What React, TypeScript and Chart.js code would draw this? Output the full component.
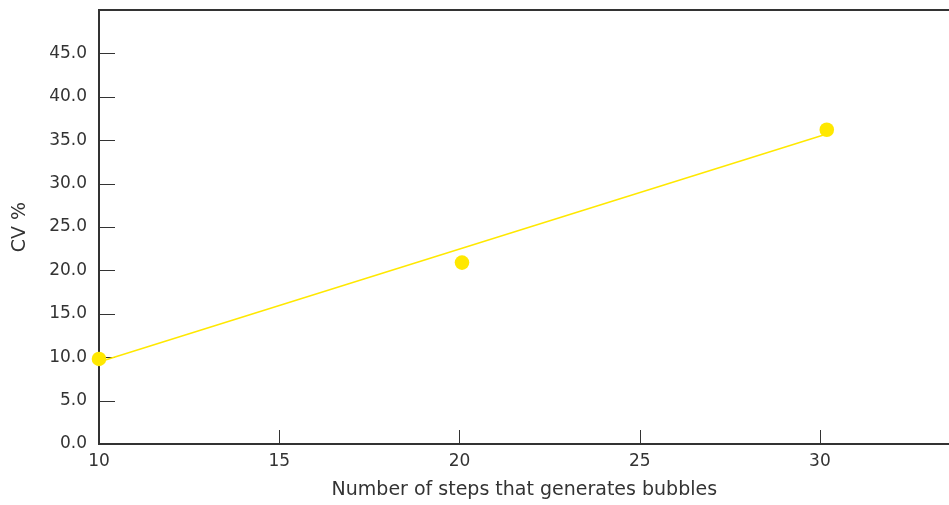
import React, { useEffect, useRef } from "react";
import { Chart, registerables } from "chart.js";

Chart.register(...registerables);

// Data
const stepsX = [10, 20.07, 30.19];
const cvValues = [9.8, 20.9, 36.2];
const trendX = [10, 30.1];
const trendY = [9.45, 35.6];
const xTickValues = [10, 15, 20, 25, 30];
const yTickValues = [0, 5, 10, 15, 20, 25, 30, 35, 40, 45];

const TEXT = "#333333";
const AXIS = "#333333";
const YELLOW = "#FFE800";
const FONT = "DejaVu Sans";

const innerTicks = {
  id: "innerTicks",
  beforeDatasetsDraw(chart: any) {
    const { ctx, chartArea, scales } = chart;
    ctx.save();
    ctx.strokeStyle = AXIS;
    // top border
    ctx.beginPath();
    ctx.lineWidth = 2;
    ctx.moveTo(chartArea.left, chartArea.top);
    ctx.lineTo(chartArea.right, chartArea.top);
    ctx.stroke();
    ctx.lineWidth = 1;
    for (const v of yTickValues) {
      const y = Math.round(scales.y.getPixelForValue(v)) + 0.5;
      ctx.beginPath();
      ctx.moveTo(chartArea.left, y);
      ctx.lineTo(chartArea.left + 16, y);
      ctx.stroke();
    }
    for (const v of xTickValues) {
      const x = Math.round(scales.x.getPixelForValue(v)) + 0.5;
      ctx.beginPath();
      ctx.moveTo(x, chartArea.bottom);
      ctx.lineTo(x, chartArea.bottom - 14);
      ctx.stroke();
    }
    ctx.restore();
  },
};

export default function App() {
  const ref = useRef<HTMLCanvasElement>(null);
  useEffect(() => {
    if (!ref.current) return;
    const chart = new Chart(ref.current, {
      type: "scatter",
      data: {
        datasets: [
          {
            type: "line",
            data: trendX.map((x, i) => ({ x, y: trendY[i] })),
            borderColor: YELLOW,
            borderWidth: 1.5,
            pointRadius: 0,
            fill: false,
            clip: false,
          } as any,
          {
            data: stepsX.map((x, i) => ({ x, y: cvValues[i] })),
            backgroundColor: YELLOW,
            borderColor: YELLOW,
            pointRadius: 7.3,
            borderWidth: 0,
            clip: false,
          } as any,
        ],
      },
      options: {
        animation: false,
        responsive: false,
        maintainAspectRatio: false,
        layout: { padding: { top: 10, right: 0, bottom: 0, left: 0 } },
        plugins: { legend: { display: false }, tooltip: { enabled: false } },
        scales: {
          x: {
            type: "linear",
            min: 10,
            max: 33.6,
            grid: { display: false, drawTicks: false },
            border: { display: true, color: AXIS, width: 2 },
            ticks: {
              stepSize: 5,
              includeBounds: false,
              padding: 7,
              color: TEXT,
              font: { family: FONT, size: 17 },
              maxRotation: 0,
            },
            title: {
              display: true,
              text: "Number of steps that generates bubbles",
              color: TEXT,
              font: { family: FONT, size: 19 },
              padding: { top: 0, bottom: 4 },
              align: "center",
            },
            afterFit: (s: any) => {
              s.height = 61;
              s.paddingLeft = 0;
              s.paddingRight = 0;
            },
          },
          y: {
            type: "linear",
            min: 0,
            max: 50,
            grid: { display: false, drawTicks: false },
            border: { display: true, color: AXIS, width: 2 },
            ticks: {
              stepSize: 5,
              padding: 12,
              color: TEXT,
              font: { family: FONT, size: 17 },
              callback: (v: any) => (v >= 50 ? "" : Number(v).toFixed(1)),
            },
            title: {
              display: true,
              text: "CV %",
              color: TEXT,
              font: { family: FONT, size: 19 },
              padding: { top: 9, bottom: 0 },
            },
            afterFit: (s: any) => {
              s.width = 99;
              s.paddingTop = 0;
              s.paddingBottom = 0;
            },
          },
        },
      },
      plugins: [innerTicks],
    });
    return () => chart.destroy();
  }, []);
  return (
    <div style={{ position: "absolute", left: 0, top: 0, width: 949, height: 505, overflow: "hidden" }}>
      <canvas ref={ref} width={957} height={505} style={{ display: "block", width: 957, height: 505 }} />
    </div>
  );
}
